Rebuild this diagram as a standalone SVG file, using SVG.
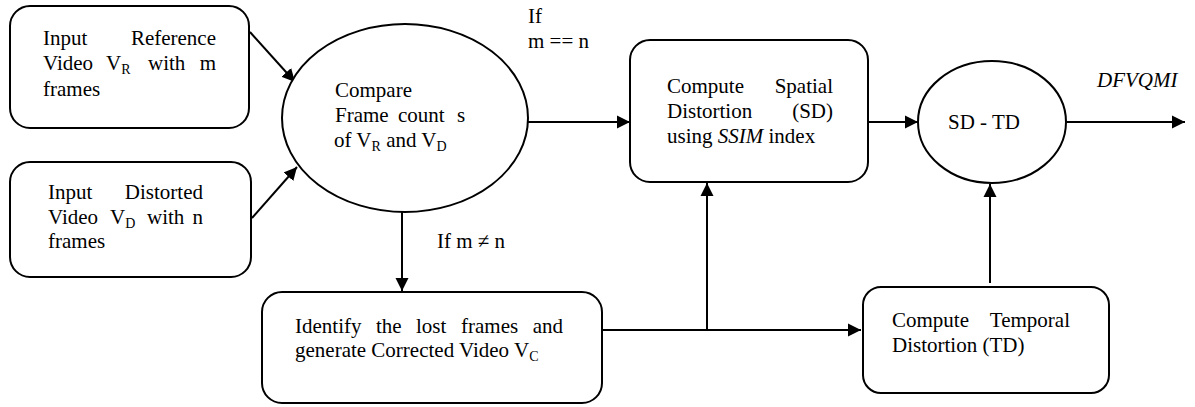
<svg xmlns="http://www.w3.org/2000/svg" width="1195" height="407" viewBox="0 0 1195 407" font-family="'Liberation Serif','Times New Roman',serif">
<style>
.shape{fill:#fff;stroke:#000;stroke-width:2}
.t{font-family:'Liberation Serif','Times New Roman',serif;font-size:21px;fill:#000}
.sub{font-size:14px}
.it{font-style:italic}
.conn{fill:none;stroke:#000;stroke-width:2}
</style>
<defs>
<marker id="ah" markerUnits="userSpaceOnUse" markerWidth="14" markerHeight="14" refX="13" refY="7" orient="auto">
<path d="M0,0.5 L13,7 L0,13.5 z" fill="#000"/>
</marker>
</defs>
<rect width="1195" height="407" fill="#fff"/>
<g id="connectors">
<line class="conn" x1="250" y1="32" x2="295" y2="82" marker-end="url(#ah)"/>
<line class="conn" x1="252" y1="218" x2="297" y2="167" marker-end="url(#ah)"/>
<line class="conn" x1="528" y1="122" x2="630" y2="122" marker-end="url(#ah)"/>
<line class="conn" x1="402" y1="211" x2="402" y2="291" marker-end="url(#ah)"/>
<line class="conn" x1="602" y1="330" x2="861" y2="330" marker-end="url(#ah)"/>
<line class="conn" x1="707" y1="330" x2="707" y2="183" marker-end="url(#ah)"/>
<line class="conn" x1="869" y1="122" x2="918" y2="122" marker-end="url(#ah)"/>
<line class="conn" x1="990" y1="283" x2="990" y2="184" marker-end="url(#ah)"/>
<line class="conn" x1="1067" y1="122" x2="1185" y2="122" marker-end="url(#ah)"/>
<text class="t" x="528" y="23">If</text>
<text class="t" x="528" y="48">m == n</text>
<text class="t" x="437" y="248">If m ≠ n</text>
<text class="t it" x="1097" y="87">DFVQMI</text>
</g>
<g id="input-reference">
<rect class="shape" x="10" y="6" width="239" height="122" rx="20"/>
<text class="t" y="45"><tspan x="43">Input</tspan><tspan x="216" text-anchor="end">Reference</tspan></text>
<text class="t" y="70"><tspan x="43">Video</tspan><tspan x="106">V</tspan><tspan class="sub" dy="4">R</tspan><tspan x="148" dy="-4">with</tspan><tspan x="216" text-anchor="end">m</tspan></text>
<text class="t" x="43" y="96">frames</text>
</g>
<g id="input-distorted">
<rect class="shape" x="10" y="162" width="241" height="115" rx="20"/>
<text class="t" y="199"><tspan x="48">Input</tspan><tspan x="203" text-anchor="end">Distorted</tspan></text>
<text class="t" y="224"><tspan x="48">Video</tspan><tspan x="110">V</tspan><tspan class="sub" dy="4">D</tspan><tspan x="147" dy="-4">with</tspan><tspan x="203" text-anchor="end">n</tspan></text>
<text class="t" x="48" y="248">frames</text>
</g>
<g id="compare">
<ellipse class="shape" cx="405" cy="118" rx="123" ry="94"/>
<text class="t" x="335" y="97">Compare</text>
<text class="t" y="122"><tspan x="335">Frame</tspan><tspan x="398">count</tspan><tspan x="457">s</tspan></text>
<text class="t" x="334" y="147">of V<tspan class="sub" dy="4">R</tspan><tspan dy="-4"> and V</tspan><tspan class="sub" dy="4">D</tspan></text>
</g>
<g id="identify">
<rect class="shape" x="262" y="292" width="340" height="111" rx="20"/>
<text class="t" y="333"><tspan x="295">Identify</tspan><tspan x="376">the</tspan><tspan x="416">lost</tspan><tspan x="461">frames</tspan><tspan x="563" text-anchor="end">and</tspan></text>
<text class="t" x="295" y="357">generate Corrected Video V<tspan class="sub" dy="4">C</tspan></text>
</g>
<g id="spatial">
<rect class="shape" x="630" y="40" width="238" height="142" rx="20"/>
<text class="t" y="93"><tspan x="667">Compute</tspan><tspan x="833" text-anchor="end">Spatial</tspan></text>
<text class="t" y="118"><tspan x="667">Distortion</tspan><tspan x="833" text-anchor="end">(SD)</tspan></text>
<text class="t" x="667" y="143">using <tspan class="it">SSIM</tspan> index</text>
</g>
<g id="sd-td">
<ellipse class="shape" cx="992" cy="122" rx="74" ry="61"/>
<text class="t" x="948" y="129">SD - TD</text>
</g>
<g id="temporal">
<rect class="shape" x="863" y="287" width="246" height="106" rx="18"/>
<text class="t" y="327"><tspan x="892">Compute</tspan><tspan x="1070" text-anchor="end">Temporal</tspan></text>
<text class="t" x="892" y="352">Distortion (TD)</text>
</g>
</svg>
